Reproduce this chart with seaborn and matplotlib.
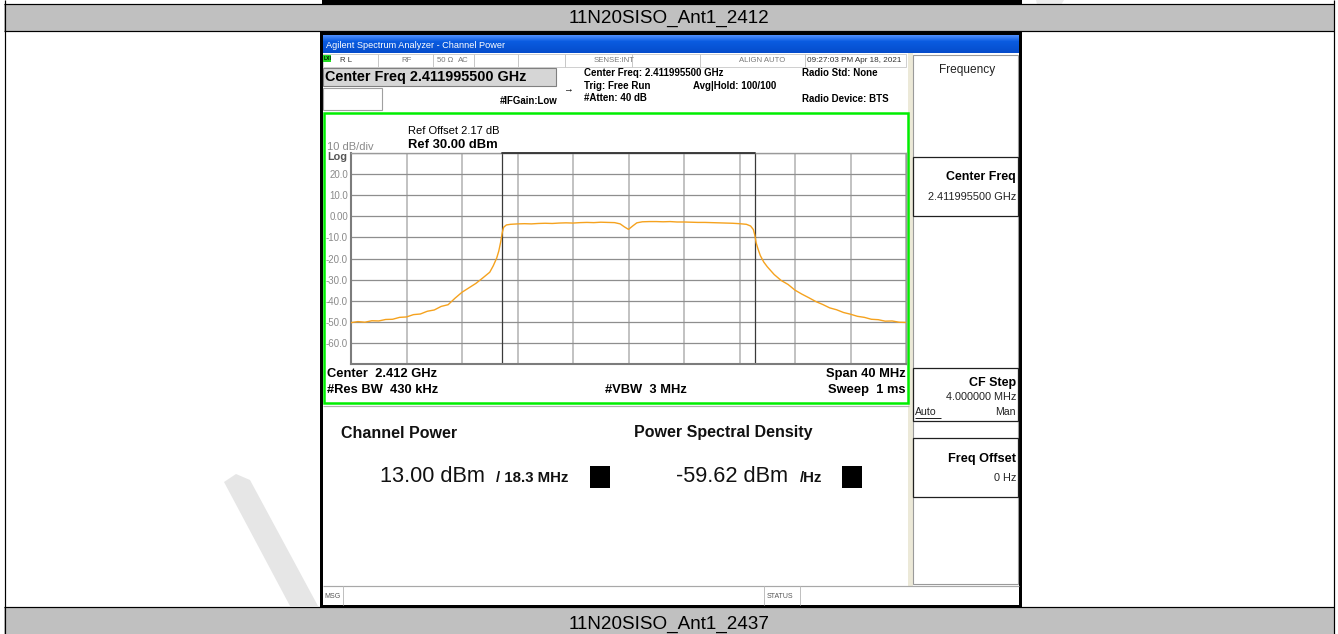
import numpy as np
import pandas as pd
import matplotlib
matplotlib.use("Agg")
import matplotlib.pyplot as plt
import seaborn as sns
from matplotlib.patches import Rectangle, Polygon
from matplotlib.lines import Line2D

# ---------------- data ----------------
center_ghz = 2.412
span_mhz = 40
channel_bw_mhz = 18.3
ref_level_dbm = 30
db_per_div = 10

freq_offset_mhz = [
    -20.0, -19.5, -19.0, -18.5, -18.0, -17.5, -17.0, -16.5, -16.0, -15.5,
    -15.0, -14.5, -14.0, -13.5, -13.0, -12.5, -12.0, -11.5, -11.0, -10.5,
    -10.0, -9.75, -9.5, -9.35, -9.2, -9.1, -9.0, -8.8, -8.5,
    -8.0, -7.5, -7.0, -6.5, -6.0, -5.5, -5.0, -4.5, -4.0, -3.5, -3.0, -2.5,
    -2.0, -1.5, -1.0, -0.6, -0.3, 0.0, 0.3, 0.6, 1.0, 1.5, 2.0, 2.5, 3.0,
    3.5, 4.0, 4.5, 5.0, 5.5, 6.0, 6.5, 7.0, 7.5, 8.0,
    8.5, 8.8, 9.0, 9.1, 9.2, 9.35, 9.5, 9.75, 10.0, 10.5, 11.0, 11.5, 12.0,
    12.5, 13.0, 13.5, 14.0, 14.5, 15.0, 15.5, 16.0, 16.5, 17.0, 17.5, 18.0,
    18.5, 19.0, 19.5, 20.0,
]
level_dbm = [
    -50.4, -49.9, -50.2, -49.5, -49.6, -48.9, -48.8, -47.9, -47.7, -46.6,
    -46.3, -45.0, -44.4, -42.7, -41.9, -38.8, -36.0, -33.9, -31.8, -29.2,
    -26.5, -23.5, -19.8, -16.5, -11.8, -7.8, -5.2, -4.1, -3.8,
    -3.6, -3.5, -3.6, -3.4, -3.3, -3.4, -3.2, -3.1, -3.2, -3.0, -2.9, -3.0,
    -2.8, -2.9, -3.0, -3.6, -5.0, -6.2, -4.6, -3.1, -2.6, -2.5, -2.5, -2.6, -2.5,
    -2.7, -2.7, -2.8, -2.9, -2.9, -3.0, -3.1, -3.2, -3.3, -3.5,
    -3.8, -4.6, -6.3, -8.8, -12.6, -15.8, -18.6, -21.7, -23.9, -27.6, -30.4, -32.3, -35.0,
    -36.9, -38.6, -40.4, -41.8, -43.4, -44.3, -45.6, -46.4, -47.4, -47.9, -48.8, -49.0,
    -49.7, -49.6, -50.2, -50.3,
]
y_tick_labels = ["-70", "-60.0", "-50.0", "-40.0", "-30.0", "-20.0", "-10.0",
                 "0.00", "10.0", "20.0", "30"]

# ---------------- figure helpers ----------------
W, H = 1338, 634
sns.set_style("white")
plt.rcParams["font.family"] = ["Liberation Sans", "DejaVu Sans"]

fig = plt.figure(figsize=(W / 100, H / 100), dpi=100)
fig.patch.set_facecolor("white")


def X(x):
    return x / W


def Y(y):
    return 1 - y / H


def rect(x0, y0, x1, y1, fc, ec="none", lw=0.0, z=1.0):
    fig.add_artist(Rectangle((X(x0), Y(y1)), (x1 - x0) / W, (y1 - y0) / H,
                             transform=fig.transFigure, facecolor=fc,
                             edgecolor=ec, linewidth=lw, zorder=z))


def line(x0, y0, x1, y1, color="black", lw=1.0, z=1.5):
    fig.add_artist(Line2D([X(x0), X(x1)], [Y(y0), Y(y1)], color=color,
                          linewidth=lw * 0.72, transform=fig.transFigure,
                          zorder=z, solid_capstyle="butt"))


def txt(x, y, s, size, ha="left", va="center", weight="normal", color="black", z=3):
    fig.text(X(x), Y(y), s, fontsize=size, ha=ha, va=va, weight=weight,
             color=color, zorder=z)


# ---------------- document table ----------------
fig.add_artist(Polygon([(X(224), Y(482)), (X(236), Y(474)), (X(250), Y(480)),
                        (X(318), Y(606)), (X(290), Y(606))], closed=True,
                       transform=fig.transFigure, facecolor="#e6e6e6",
                       edgecolor="none", zorder=0.6))
fig.add_artist(Polygon([(X(1036), Y(0)), (X(1064), Y(0)), (X(1052), Y(20)),
                        (X(1040), Y(18))], closed=True,
                       transform=fig.transFigure, facecolor="#ececec",
                       edgecolor="none", zorder=0.6))

rect(4, 4, 1334, 31, "#c0c0c0", z=0.7)
rect(4, 607, 1334, 634, "#c0c0c0", z=0.7)
rect(322, 0, 1022, 4, "black", z=0.8)
line(4, 4, 1334, 4, "black", 1.2, 1.6)
line(4, 31, 1334, 31, "black", 1.2, 1.6)
line(4, 607, 1334, 607, "black", 1.2, 1.6)
line(4.5, 0, 4.5, 634, "black", 1.2, 1.6)
line(1333.5, 0, 1333.5, 634, "black", 1.2, 1.6)
txt(669, 18, "11N20SISO_Ant1_2412", 13.6, ha="center")
txt(669, 624, "11N20SISO_Ant1_2437", 13.6, ha="center")

# ---------------- analyzer screenshot frame ----------------
rect(320, 31, 1022, 607, "black", z=0.9)
rect(323, 53, 1019, 605, "white", z=1.0)

# title bar gradient
tb = fig.add_axes([X(323), Y(53), (1019 - 323) / W, 18 / H])
tb.set_zorder(2)
c_top = np.array([0.30, 0.55, 0.98])
c_mid = np.array([0.04, 0.36, 0.88])
c_bot = np.array([0.02, 0.30, 0.80])
tvals = np.linspace(0, 1, 18)[:, None]
grad = np.where(tvals < 0.35, c_top + (c_mid - c_top) * (tvals / 0.35),
                c_mid + (c_bot - c_mid) * ((tvals - 0.35) / 0.65))
tb.imshow(grad[:, None, :].repeat(4, axis=1), aspect="auto", interpolation="bilinear")
tb.axis("off")
txt(326, 45, "Agilent Spectrum Analyzer - Channel Power", 6.6, color="white", z=4)

# status row
rect(323, 54, 906, 67, "white", ec="#c8c8c8", lw=0.6, z=1.1)
rect(323, 55, 331, 62, "#22dd22", z=1.2)
txt(324, 59, "LXI", 3.6, weight="bold")
for xd in [378, 433, 474, 518, 565, 632, 700, 805]:
    line(xd, 54, xd, 67, "#c8c8c8", 1.0, 1.2)
gray_s = "#7a7a7a"
txt(340, 60, "R L", 5.6, color="#333333")
txt(401, 60, "RF", 5.6, color=gray_s)
txt(437, 60, "50 \u03a9", 5.6, color=gray_s)
txt(458, 60, "AC", 5.6, color=gray_s)
txt(614, 60, "SENSE:INT", 5.6, ha="center", color=gray_s)
txt(762, 60, "ALIGN AUTO", 5.6, ha="center", color=gray_s)
txt(807, 60, "09:27:03 PM Apr 18, 2021", 5.9, color="#333333")

# header info
rect(323, 68, 556, 86, "#d6d6d6", ec="#808080", lw=0.8, z=1.1)
txt(325, 77.5, "Center Freq 2.411995500 GHz", 10.4, weight="bold")
rect(323, 88, 382, 110, "white", ec="#a0a0a0", lw=0.8, z=1.1)
txt(563, 89, "\u2192", 7)
txt(500, 101.5, "#IFGain:Low", 6.9, weight="bold")
txt(584, 73, "Center Freq: 2.411995500 GHz", 7.0, weight="bold")
txt(584, 86, "Trig: Free Run", 7.0, weight="bold")
txt(693, 86, "Avg|Hold: 100/100", 7.0, weight="bold")
txt(584, 98, "#Atten: 40 dB", 7.0, weight="bold")
txt(802, 73, "Radio Std: None", 7.0, weight="bold")
txt(802, 99, "Radio Device: BTS", 7.0, weight="bold")

# separator column and right panel
rect(908, 53, 913, 586, "#ece9d8", z=1.05)
rect(913, 55, 1018, 584, "white", ec="#9a9a9a", lw=0.8, z=1.1)
txt(967, 70, "Frequency", 8.6, ha="center", color="#222222")
rect(913, 157, 1018, 216, "white", ec="#202020", lw=0.9, z=1.2)
txt(1016, 177, "Center Freq", 8.9, ha="right", weight="bold")
txt(1016, 197, "2.411995500 GHz", 7.9, ha="right", color="#222222")
rect(913, 368, 1018, 421, "white", ec="#202020", lw=0.9, z=1.2)
txt(1016, 383, "CF Step", 9.0, ha="right", weight="bold")
txt(1016, 397.5, "4.000000 MHz", 7.8, ha="right", color="#222222")
txt(915, 412, "Auto", 7.6, color="#222222")
line(915, 418, 941, 418, "#222222", 1.0, 1.3)
txt(1016, 412, "Man", 7.6, ha="right", color="#222222")
rect(913, 438, 1018, 497, "white", ec="#202020", lw=0.9, z=1.2)
txt(1016, 459, "Freq Offset", 9.2, ha="right", weight="bold")
txt(1016, 478, "0 Hz", 7.8, ha="right", color="#222222")

# green trace window frame
rect(324, 113, 908, 403, "white", ec="#00ee00", lw=1.8, z=1.2)

txt(408, 131, "Ref Offset 2.17 dB", 8.0)
txt(408, 144.5, "Ref 30.00 dBm", 9.4, weight="bold")
txt(327, 146.5, "10 dB/div", 8.0, color="#8a8a8a")
txt(327, 157.5, "Log", 7.8, color="#555555", weight="bold")

txt(327, 374, "Center  2.412 GHz", 9.3, weight="bold")
txt(327, 390, "#Res BW  430 kHz", 9.3, weight="bold")
txt(605, 390, "#VBW  3 MHz", 9.3, weight="bold")
txt(906, 374, "Span 40 MHz", 9.3, ha="right", weight="bold")
txt(906, 390, "Sweep  1 ms", 9.3, ha="right", weight="bold")

# lower result panel
line(323, 406, 909, 406, "#b0b0b0", 1.2, 1.3)
txt(341, 433, "Channel Power", 11.5, weight="bold", color="#111111")
txt(634, 433, "Power Spectral Density", 11.5, weight="bold", color="#111111")
txt(380, 476, "13.00 dBm", 15.7, color="#111111")
txt(496, 478, "/ 18.3 MHz", 10.8, weight="bold", color="#111111")
rect(590, 466, 610, 488, "black", z=1.3)
txt(676, 476, "-59.62 dBm", 15.7, color="#111111")
txt(800, 478, "/Hz", 10.8, weight="bold", color="#111111")
rect(842, 466, 862, 488, "black", z=1.3)

# status bar
line(323, 586, 1019, 586, "#a8a8a8", 1.2, 1.3)
line(343, 586, 343, 605, "#c0c0c0", 1.0, 1.3)
line(764, 586, 764, 605, "#c0c0c0", 1.0, 1.3)
line(800, 586, 800, 605, "#c0c0c0", 1.0, 1.3)
txt(324, 596, "MSG", 5.0, color="#555555")
txt(767, 596, "STATUS", 5.0, color="#555555")

# ---------------- spectrum trace ----------------
ax = fig.add_axes([X(351), Y(364), (906 - 351) / W, (364 - 153) / H])
ax.set_zorder(5)
ax.set_facecolor("white")

df = pd.DataFrame({"freq": freq_offset_mhz, "level": level_dbm})
half_span = span_mhz / 2
bottom = ref_level_dbm - 10 * db_per_div
ax.set_xlim(-half_span, half_span)
ax.set_ylim(bottom, ref_level_dbm)
ax.set_xticks(np.arange(-half_span, half_span + 0.1, span_mhz / 10))
ax.set_yticks(np.arange(bottom, ref_level_dbm + 0.1, db_per_div))
ax.set_yticklabels(y_tick_labels)
for i, lab in enumerate(ax.get_yticklabels()):
    if i in (0, len(y_tick_labels) - 1):
        lab.set_visible(False)
ax.tick_params(axis="y", length=0, pad=2.2, labelsize=7.0, labelcolor="#8a8a8a")
ax.tick_params(axis="x", length=0, labelbottom=False)
ax.xaxis.grid(True, color="#bdbdbd", linewidth=1.3)
ax.yaxis.grid(True, color="#8e8e8e", linewidth=0.9)
ax.set_axisbelow(True)
for side in ["left", "bottom"]:
    ax.spines[side].set_color("#7c7c7c")
    ax.spines[side].set_linewidth(1.5)
for side in ["top", "right"]:
    ax.spines[side].set_color("#9a9a9a")
    ax.spines[side].set_linewidth(1.0)

half_bw = channel_bw_mhz / 2
ax.axvline(-half_bw, color="#3a3a3a", linewidth=0.9, zorder=1.5)
ax.axvline(half_bw, color="#3a3a3a", linewidth=0.9, zorder=1.5)
ax.plot([-half_bw, half_bw], [ref_level_dbm, ref_level_dbm], color="#303030",
        linewidth=1.3, clip_on=False, zorder=3)

sns.lineplot(data=df, x="freq", y="level", ax=ax, color="#f5a21e",
             linewidth=1.0, estimator=None, sort=False, zorder=4)
ax.set_xlabel("")
ax.set_ylabel("")

fig.savefig("out.png", dpi=100)
